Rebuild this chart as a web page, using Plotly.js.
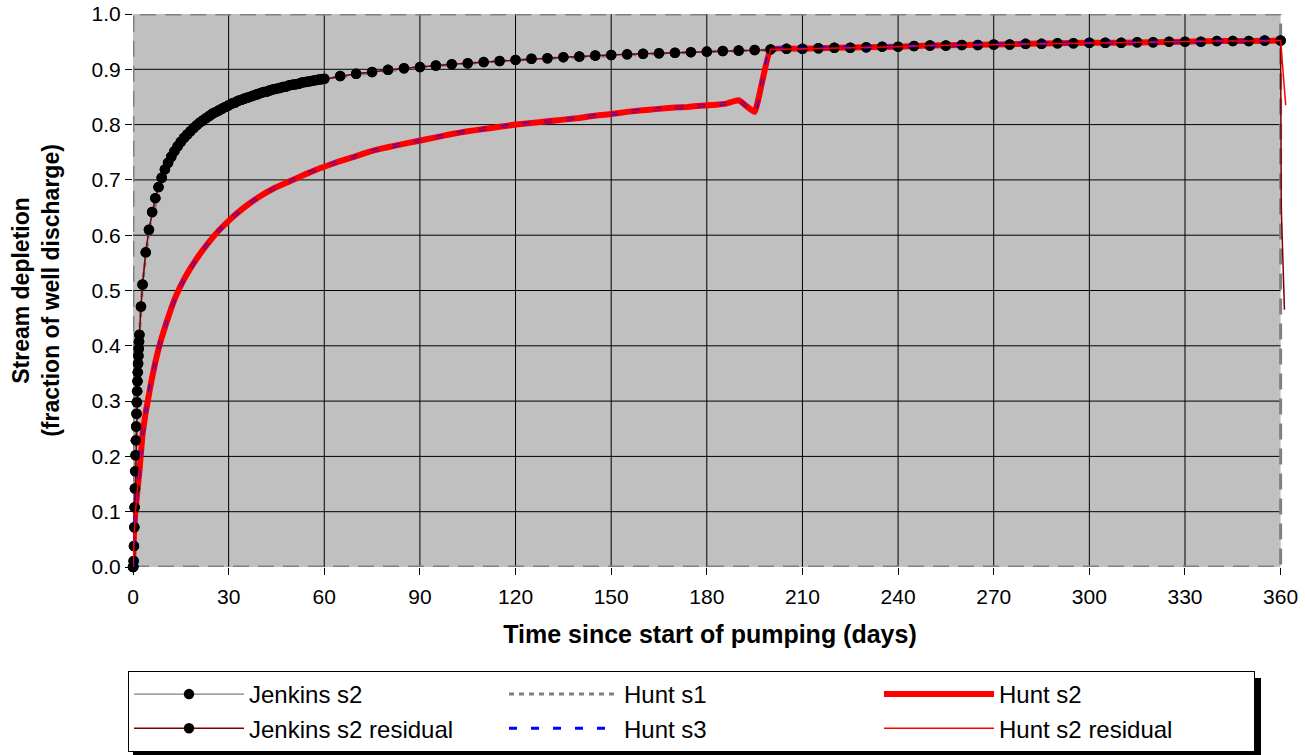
<!DOCTYPE html>
<html>
<head>
<meta charset="utf-8">
<script src="https://cdn.plot.ly/plotly-3.0.1.min.js"></script>
<style>html,body{margin:0;padding:0;background:#fff;}#chart{width:1305px;height:755px;}</style>
</head>
<body>
<div id="chart"></div>
<script>
// ---- data ----
const jenkinsDays = [0,0.1,0.2,0.3,0.4,0.5,0.6,0.7,0.8,0.9,1.0,1.1,1.2,1.3,1.4,1.5,1.6,1.7,1.8,1.9,2.0,2.5,
  3,4,5,6,7,8,9,10,11,12,13,14,15,16,17,18,19,20,21,22,23,24,25,26,27,28,29,30,
  31,32,33,34,35,36,37,38,39,40,41,42,43,44,45,46,47,48,49,50,51,52,53,54,55,56,57,58,59,60,
  65,70,75,80,85,90,95,100,105,110,115,120,125,130,135,140,145,150,155,160,165,170,175,180,
  185,190,195,200,205,210,215,220,225,230,235,240,245,250,255,260,265,270,275,280,285,290,
  295,300,305,310,315,320,325,330,335,340,345,350,355,360];
const jenkinsS2 = [0,0.0003,0.011,0.038,0.072,0.108,0.142,0.173,0.202,0.229,0.254,0.277,0.298,0.318,0.336,0.352,0.368,0.382,0.395,0.408,0.420,0.471,
  0.511,0.569,0.610,0.642,0.667,0.687,0.704,0.719,0.731,0.742,0.752,0.761,0.769,0.776,0.782,0.788,0.794,0.799,0.804,0.808,0.812,0.816,0.820,0.823,0.826,0.829,0.832,0.835,
  0.838,0.840,0.843,0.845,0.847,0.849,0.851,0.853,0.855,0.857,0.859,0.860,0.862,0.864,0.865,0.866,0.868,0.869,0.871,0.872,0.873,0.874,0.876,0.877,0.878,0.879,0.880,0.881,0.882,0.883,
  0.888,0.892,0.895,0.899,0.902,0.904,0.907,0.909,0.911,0.913,0.915,0.917,0.919,0.920,0.922,0.923,0.925,0.926,0.927,0.928,0.929,0.930,0.931,0.932,
  0.933,0.934,0.935,0.936,0.937,0.937,0.938,0.939,0.939,0.940,0.941,0.941,0.942,0.943,0.943,0.944,0.944,0.945,0.945,0.946,0.946,0.947,
  0.947,0.948,0.948,0.948,0.949,0.949,0.950,0.950,0.950,0.951,0.951,0.951,0.952,0.952];
const jenkinsResidTailDays = [360.2, 361.2];
const jenkinsResidTail = [0.65, 0.465];

const huntS1Days = [0,0.25,0.5,0.75,1,1.5,2,3,5,10,20,30,45,60,90,120,180,240,300,360];
const huntS1 = [0,0.02,0.108,0.19,0.254,0.352,0.42,0.511,0.61,0.719,0.799,0.835,0.865,0.883,0.904,0.917,0.932,0.941,0.948,0.952];

const huntDays = [0,0.3,0.6,1,1.5,2,2.5,3,4,4.7,5.5,6.3,7,8,9,10.6,12,13.7,16,18,21,24,27,30,32.5,36,40,44,49,54,58.6,64,69,73,77.5,83,89,
  95,100,105,110,115,120,125,130,135,140,146,150,155,160,164,170,174,178,183,186,190,195,
  200,210,220,230,240,250,260,270,280,290,300,310,320,330,340,350,360];
const huntS2 = [0,0.058,0.088,0.115,0.145,0.172,0.207,0.240,0.280,0.302,0.328,0.351,0.370,0.394,0.415,0.444,0.468,0.493,0.520,0.540,0.566,0.589,0.609,0.626,0.639,0.655,0.671,0.684,0.697,0.710,0.721,0.732,0.741,0.749,0.756,0.763,0.770,
  0.777,0.783,0.788,0.792,0.796,0.800,0.803,0.806,0.809,0.812,0.817,0.819,0.823,0.826,0.828,0.831,0.832,0.834,0.836,0.838,0.844,0.823,
  0.936,0.937,0.939,0.940,0.941,0.943,0.944,0.945,0.946,0.947,0.948,0.948,0.949,0.950,0.951,0.951,0.952];
const huntS3 = [0,0.058,0.088,0.115,0.145,0.172,0.207,0.240,0.280,0.302,0.328,0.351,0.370,0.394,0.415,0.444,0.468,0.493,0.520,0.540,0.566,0.589,0.609,0.626,0.639,0.655,0.671,0.684,0.697,0.710,0.721,0.732,0.741,0.749,0.756,0.763,0.770,
  0.777,0.783,0.788,0.792,0.796,0.800,0.803,0.806,0.809,0.812,0.817,0.819,0.823,0.826,0.828,0.831,0.832,0.834,0.836,0.838,0.844,0.823,
  0.936,0.937,0.939,0.940,0.941,0.943,0.944,0.945,0.946,0.947,0.948,0.948,0.949,0.950,0.951,0.951,0.952];
const huntResidTailDays = [361.6];
const huntResidTail = [0.835];

const xTitle = 'Time since start of pumping (days)';
const yTitle = 'Stream depletion<br>(fraction of well discharge)';
const seriesNames = ['Jenkins s2','Jenkins s2 residual','Hunt s1','Hunt s3','Hunt s2','Hunt s2 residual'];

// ---- build traces ----
const FONT = 'Liberation Sans, Arial, sans-serif';
const jrDays = jenkinsDays.concat(jenkinsResidTailDays);
const jrVals = jenkinsS2.concat(jenkinsResidTail);
const hrDays = huntDays.concat(huntResidTailDays);
const hrVals = huntS2.concat(huntResidTail);

const traces = [
  {name: seriesNames[0], x: jenkinsDays, y: jenkinsS2, mode: 'lines+markers', cliponaxis: false,
   line: {color: '#606060', width: 1}, marker: {color: '#000', size: 10.5}},
  {name: seriesNames[2], x: huntS1Days, y: huntS1, mode: 'lines',
   line: {color: '#808080', width: 3, dash: '5px,5px'}},
  {name: seriesNames[4], x: huntDays, y: huntS2, mode: 'lines',
   line: {color: '#FF0000', width: 6, shape: 'spline', smoothing: 0.3}},
  {name: seriesNames[1], x: jrDays, y: jrVals, mode: 'lines+markers', cliponaxis: false,
   line: {color: '#800000', width: 1.5},
   marker: {color: '#000', size: 10.5, line: {width: 0},
            symbol: jrDays.map(d => d > 360 ? 'line-ns' : 'circle')}},
  {name: seriesNames[3], x: huntDays, y: huntS3, mode: 'lines',
   line: {color: '#0000FF', width: 3, dash: '8px,14px', shape: 'spline', smoothing: 0.3}},
  {name: seriesNames[5], x: hrDays, y: hrVals, mode: 'lines',
   line: {color: '#FF0000', width: 1.5}}
];

// ---- plot-area decoration (background, grid, dashed frame) ----
const shapes = [];
shapes.push({type: 'rect', xref: 'x', yref: 'y', x0: 0, x1: 360, y0: 0, y1: 1,
  fillcolor: '#C0C0C0', line: {width: 0}, layer: 'below'});
for (let d = 30; d < 360; d += 30) {
  shapes.push({type: 'line', xref: 'x', yref: 'y', x0: d, x1: d, y0: 0, y1: 1,
    line: {color: '#000', width: 1}, layer: 'below'});
}
for (let k = 1; k < 10; k++) {
  shapes.push({type: 'line', xref: 'x', yref: 'y', x0: 0, x1: 360, y0: k / 10, y1: k / 10,
    line: {color: '#000', width: 1}, layer: 'below'});
}
shapes.push({type: 'rect', xref: 'x', yref: 'y', x0: 0, x1: 360, y0: 0, y1: 1,
  line: {color: '#808080', width: 3, dash: '16px,9px'}, layer: 'below'});
// legend drop shadow (pixel offsets converted to paper units)
const PW = 1154, PH = 553;
shapes.push({type: 'rect', xref: 'paper', yref: 'paper',
  x0: (133 - 133) / PW, x1: (1261 - 133) / PW, y0: (567 - 756) / PH, y1: (567 - 678) / PH,
  fillcolor: '#000', line: {width: 0}, layer: 'below'});

const layout = {
  width: 1305, height: 755,
  margin: {l: 133, r: 18, t: 14, b: 188, autoexpand: false},
  paper_bgcolor: '#fff', plot_bgcolor: 'rgba(0,0,0,0)',
  font: {family: FONT, color: '#000', size: 21},
  showlegend: true,
  xaxis: {range: [0, 362], tick0: 0, dtick: 30, showgrid: false, zeroline: false, showline: false,
    ticks: 'outside', ticklen: 7, tickcolor: '#000', tickwidth: 1, ticklabelstandoff: 4,
    tickfont: {family: FONT, size: 21, color: '#000'},
    title: {text: '<b>' + xTitle + '</b>', font: {family: FONT, size: 25, color: '#000'}, standoff: 18}},
  yaxis: {range: [0, 1], tick0: 0, dtick: 0.1, tickformat: '.1f', showgrid: false, zeroline: false, showline: false,
    ticks: 'outside', ticklen: 7, tickcolor: '#000', tickwidth: 1,
    tickfont: {family: FONT, size: 21, color: '#000'},
    title: {text: '<b>' + yTitle + '</b>', font: {family: FONT, size: 23, color: '#000'}, standoff: 25}},
  legend: {orientation: 'h', x: (128 - 133) / PW, xanchor: 'left', y: (567 - 671) / PH, yanchor: 'top',
    bgcolor: '#fff', bordercolor: '#000', borderwidth: 1,
    font: {family: FONT, size: 24, color: '#000'},
    entrywidth: 250, entrywidthmode: 'pixels', itemwidth: 110, traceorder: 'normal'},
  shapes: shapes
};

Plotly.newPlot('chart', traces, layout, {displayModeBar: false, staticPlot: true});
</script>
</body>
</html>
